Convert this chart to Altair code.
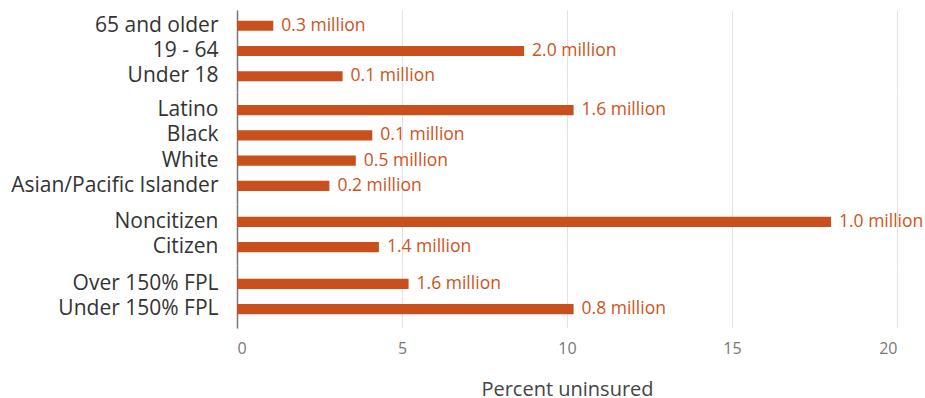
import altair as alt
import pandas as pd

categories = ["65 and older", "19 - 64", "Under 18",
              "Latino", "Black", "White", "Asian/Pacific Islander",
              "Noncitizen", "Citizen",
              "Over 150% FPL", "Under 150% FPL"]
groups = ["Age", "Age", "Age",
          "Race", "Race", "Race", "Race",
          "Citizenship", "Citizenship",
          "Income", "Income"]
values = [1.1, 8.7, 3.2, 10.2, 4.1, 3.6, 2.8, 18.0, 4.3, 5.2, 10.2]
labels = ["0.3 million", "2.0 million", "0.1 million",
          "1.6 million", "0.1 million", "0.5 million", "0.2 million",
          "1.0 million", "1.4 million",
          "1.6 million", "0.8 million"]
x_ticks = [0, 5, 10, 15, 20]

df = pd.DataFrame({"category": categories, "group": groups,
                   "value": values, "label": labels})

FONT = "Open Sans"
BAR = "#C9501D"
TXT = "#CF5320"

panel_specs = [("Age", 82, 0.42), ("Race", 112, 0.516),
               ("Citizenship", 61, 0.508), ("Income", 63, 0.55)]


def panel(g, h, po, last):
    d = df[df.group == g]
    order = list(d.category)
    xkw = dict(values=x_ticks, grid=True, gridColor="#e2e2e2", gridWidth=1,
               ticks=False, domain=False, labels=last,
               labelFontSize=16, labelColor="#777777", labelFont=FONT,
               labelPadding=12, titleFontSize=20, titleColor="#444444",
               titleFont=FONT, titleFontWeight="normal", titlePadding=23)
    if last:
        xkw["title"] = "Percent uninsured"
    else:
        xkw["title"] = None
    base = alt.Chart(d).encode(
        y=alt.Y("category:N", sort=order,
                scale=alt.Scale(paddingInner=0.6, paddingOuter=po),
                axis=alt.Axis(title=None, ticks=False, domain=True,
                              domainColor="#777777", domainWidth=1.5,
                              labelFontSize=21, labelColor="#333333",
                              labelFont=FONT, labelPadding=19,
                              labelLimit=400)),
        x=alt.X("value:Q", scale=alt.Scale(domain=[0, 20], nice=False),
                axis=alt.Axis(**xkw)),
    )
    bars = base.mark_bar(color=BAR)
    text = base.mark_text(align="left", baseline="middle", dx=8,
                          fontSize=17.5, color=TXT, font=FONT).encode(
        text="label:N")
    return (bars + text).properties(width=660, height=h)


panels = [panel(g, h, po, i == len(panel_specs) - 1)
          for i, (g, h, po) in enumerate(panel_specs)]

chart = alt.vconcat(*panels, spacing=0, bounds="flush").properties(
    padding={"left": 10, "top": 10, "right": 0, "bottom": 0}
).configure_view(stroke=None)

chart.save("out.html", embed_options={"renderer": "svg", "actions": False})
